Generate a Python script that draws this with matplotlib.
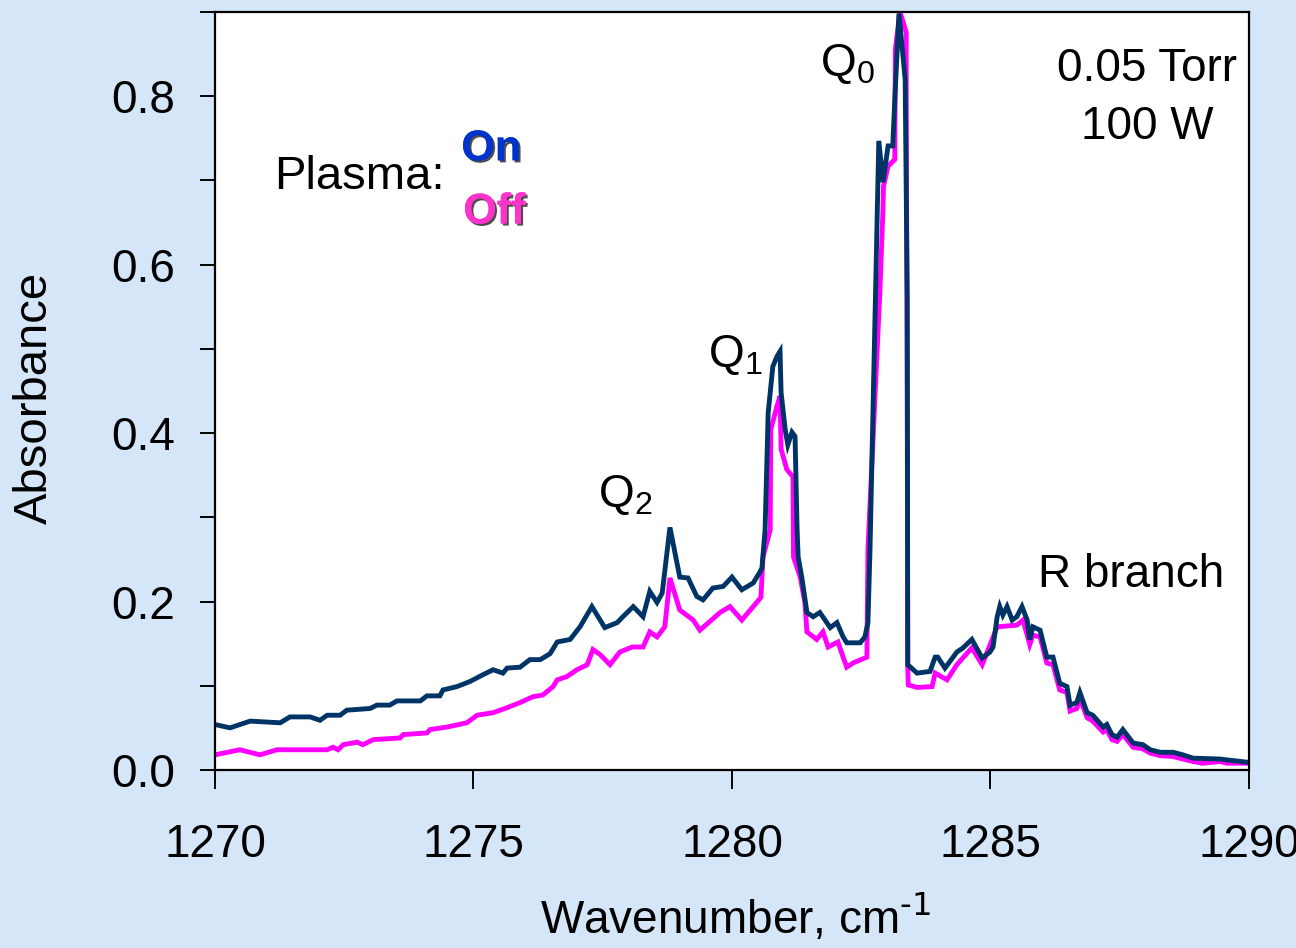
import matplotlib
matplotlib.use("Agg")
import matplotlib.pyplot as plt
import matplotlib.patheffects as pe
from matplotlib.ticker import MultipleLocator

plt.rcParams["font.family"] = ["Liberation Sans", "DejaVu Sans"]
plt.rcParams["mathtext.default"] = "regular"

# plasma on spectrum (wavenumber, absorbance)
wn_on = [1270.00, 1270.29, 1270.68, 1271.26, 1271.45, 1271.84, 1272.03, 1272.17,
         1272.42, 1272.55, 1273.00, 1273.13, 1273.38, 1273.52, 1273.97, 1274.10,
         1274.35, 1274.41, 1274.68, 1274.93, 1275.18, 1275.38, 1275.57, 1275.65,
         1275.90, 1276.09, 1276.29, 1276.48, 1276.62, 1276.87, 1277.06, 1277.29,
         1277.54, 1277.78, 1277.89, 1278.09, 1278.28, 1278.41, 1278.55, 1278.65,
         1278.80, 1278.99, 1279.15, 1279.32, 1279.44, 1279.63, 1279.83, 1280.00,
         1280.19, 1280.41, 1280.54, 1280.58, 1280.64, 1280.70, 1280.79, 1280.87,
         1280.93, 1280.95, 1281.03, 1281.08, 1281.16, 1281.22, 1281.26, 1281.28,
         1281.35, 1281.45, 1281.57, 1281.70, 1281.80, 1281.90, 1282.03, 1282.15,
         1282.22, 1282.48, 1282.57, 1282.63, 1282.67, 1282.84, 1282.92, 1283.02,
         1283.11, 1283.15, 1283.23, 1283.35, 1283.39, 1283.40, 1283.58, 1283.83,
         1283.93, 1283.98, 1284.12, 1284.35, 1284.47, 1284.64, 1284.84, 1284.99,
         1285.05, 1285.13, 1285.18, 1285.24, 1285.32, 1285.42, 1285.51, 1285.61,
         1285.71, 1285.76, 1285.82, 1285.96, 1286.09, 1286.21, 1286.34, 1286.48,
         1286.54, 1286.67, 1286.73, 1286.87, 1286.98, 1287.18, 1287.25, 1287.35,
         1287.45, 1287.56, 1287.76, 1287.95, 1288.09, 1288.28, 1288.53, 1288.72,
         1288.92, 1289.44, 1289.57, 1290.00]
abs_on = [0.054, 0.050, 0.058, 0.056, 0.063, 0.063, 0.059, 0.065,
          0.065, 0.071, 0.073, 0.077, 0.077, 0.082, 0.082, 0.088,
          0.088, 0.095, 0.099, 0.105, 0.113, 0.119, 0.115, 0.121,
          0.122, 0.131, 0.131, 0.138, 0.152, 0.155, 0.170, 0.194,
          0.169, 0.175, 0.182, 0.194, 0.182, 0.212, 0.199, 0.210,
          0.288, 0.229, 0.228, 0.206, 0.202, 0.216, 0.218, 0.229,
          0.214, 0.222, 0.235, 0.240, 0.285, 0.424, 0.479, 0.491,
          0.497, 0.448, 0.404, 0.386, 0.401, 0.396, 0.285, 0.253,
          0.229, 0.187, 0.182, 0.187, 0.178, 0.169, 0.175, 0.158,
          0.151, 0.151, 0.158, 0.175, 0.262, 0.747, 0.698, 0.741,
          0.741, 0.797, 0.898, 0.820, 0.559, 0.125, 0.115, 0.117,
          0.134, 0.134, 0.121, 0.140, 0.145, 0.155, 0.133, 0.140,
          0.146, 0.182, 0.194, 0.184, 0.194, 0.178, 0.182, 0.194,
          0.178, 0.155, 0.170, 0.166, 0.134, 0.134, 0.103, 0.099,
          0.077, 0.080, 0.092, 0.068, 0.065, 0.051, 0.054, 0.042,
          0.039, 0.048, 0.032, 0.030, 0.024, 0.021, 0.021, 0.018,
          0.014, 0.013, 0.012, 0.009]

# plasma off spectrum
wn_off = [1270.00, 1270.48, 1270.87, 1271.20, 1272.17, 1272.28, 1272.38, 1272.48,
          1272.75, 1272.86, 1273.06, 1273.58, 1273.64, 1274.10, 1274.16, 1274.49,
          1274.87, 1275.07, 1275.38, 1275.65, 1275.90, 1276.15, 1276.34, 1276.54,
          1276.62, 1276.81, 1277.00, 1277.20, 1277.31, 1277.45, 1277.64, 1277.83,
          1278.07, 1278.28, 1278.41, 1278.55, 1278.70, 1278.80, 1278.99, 1279.25,
          1279.38, 1279.77, 1279.96, 1280.19, 1280.41, 1280.56, 1280.60, 1280.74,
          1280.75, 1280.87, 1280.93, 1280.95, 1281.06, 1281.18, 1281.19, 1281.32,
          1281.41, 1281.45, 1281.64, 1281.76, 1281.86, 1282.05, 1282.15, 1282.22,
          1282.34, 1282.61, 1282.63, 1282.86, 1282.92, 1282.93, 1283.02, 1283.15,
          1283.16, 1283.25, 1283.37, 1283.37, 1283.39, 1283.40, 1283.41, 1283.58,
          1283.87, 1283.93, 1284.16, 1284.35, 1284.64, 1284.84, 1285.13, 1285.51,
          1285.63, 1285.76, 1285.82, 1285.96, 1286.09, 1286.21, 1286.34, 1286.48,
          1286.54, 1286.67, 1286.73, 1286.87, 1286.98, 1287.18, 1287.25, 1287.35,
          1287.45, 1287.56, 1287.76, 1287.95, 1288.09, 1288.28, 1288.53, 1288.72,
          1288.92, 1289.10, 1289.44, 1289.57, 1290.00]
abs_off = [0.018, 0.024, 0.018, 0.024, 0.024, 0.027, 0.024, 0.030,
           0.033, 0.030, 0.036, 0.038, 0.042, 0.044, 0.048, 0.051,
           0.056, 0.065, 0.068, 0.074, 0.080, 0.087, 0.089, 0.099,
           0.107, 0.111, 0.119, 0.125, 0.143, 0.137, 0.125, 0.140,
           0.146, 0.146, 0.164, 0.158, 0.170, 0.228, 0.190, 0.178,
           0.166, 0.187, 0.194, 0.178, 0.194, 0.205, 0.253, 0.285,
           0.404, 0.432, 0.444, 0.381, 0.357, 0.348, 0.253, 0.229,
           0.199, 0.164, 0.155, 0.164, 0.146, 0.152, 0.134, 0.122,
           0.127, 0.134, 0.262, 0.567, 0.664, 0.693, 0.717, 0.725,
           0.856, 0.900, 0.876, 0.820, 0.440, 0.121, 0.101, 0.098,
           0.099, 0.115, 0.107, 0.125, 0.145, 0.125, 0.170, 0.172,
           0.178, 0.149, 0.160, 0.158, 0.127, 0.125, 0.095, 0.092,
           0.070, 0.073, 0.085, 0.062, 0.058, 0.045, 0.048, 0.036,
           0.034, 0.042, 0.027, 0.025, 0.020, 0.017, 0.016, 0.013,
           0.010, 0.008, 0.010, 0.008, 0.008]

navy = "#003366"
pink = "#ff00ff"
bg = "#d5e6f8"

fig = plt.figure(figsize=(12.96, 9.48), dpi=100, facecolor=bg)
ax = fig.add_axes([0.1659, 0.1878, 0.7978, 0.7995])
ax.set_facecolor("white")

ax.plot(wn_off, abs_off, color=pink, lw=3.5, solid_joinstyle="miter")
ax.plot(wn_on, abs_on, color=navy, lw=3.5, solid_joinstyle="miter")

ax.set_xlim(1270, 1290)
ax.set_ylim(0, 0.9)
ax.xaxis.set_major_locator(MultipleLocator(5))
ax.yaxis.set_major_locator(MultipleLocator(0.2))
ax.yaxis.set_minor_locator(MultipleLocator(0.1))
ax.yaxis.set_major_formatter(plt.FuncFormatter(lambda v, p: f"{v:.1f}"))

for s in ax.spines.values():
    s.set_linewidth(1.6)
ax.tick_params(axis="y", which="both", direction="out", length=11, width=1.4,
               labelsize=33, pad=18)
ax.tick_params(axis="x", which="major", direction="out", length=14, width=1.4,
               labelsize=33, pad=24)

fig.text(35 / 1296, 1 - 398 / 948, "Absorbance", rotation=90, fontsize=34,
         ha="center", va="center")
fig.text(735 / 1296, 1 - 918 / 948, r"Wavenumber, cm$^{\text{-1}}$", fontsize=33,
         ha="center", va="center")

# peak labels
ax.text(1282.24, 0.838, "Q$_0$", fontsize=33, ha="center", va="center")
ax.text(1280.06, 0.493, "Q$_1$", fontsize=33, ha="center", va="center")
ax.text(1277.93, 0.327, "Q$_2$", fontsize=33, ha="center", va="center")
ax.text(1287.72, 0.232, "R branch", fontsize=33, ha="center", va="center")
ax.text(1288.03, 0.832, "0.05 Torr", fontsize=33, ha="center", va="center")
ax.text(1288.03, 0.763, "100 W", fontsize=33, ha="center", va="center")

# plasma on / off key
ax.text(1272.80, 0.704, "Plasma:", fontsize=34, ha="center", va="center")
shadow = [pe.withSimplePatchShadow(offset=(1.5, -1.5), shadow_rgbFace="#202020",
                                   alpha=0.8), pe.Normal()]
ax.text(1275.34, 0.737, "On", fontsize=31, fontweight="bold", color="#0033cc",
        ha="center", va="center", path_effects=shadow)
ax.text(1275.40, 0.662, "Off", fontsize=31, fontweight="bold", color="#ff33cc",
        ha="center", va="center", path_effects=shadow)

fig.savefig("out.png", dpi=100, facecolor=bg)
